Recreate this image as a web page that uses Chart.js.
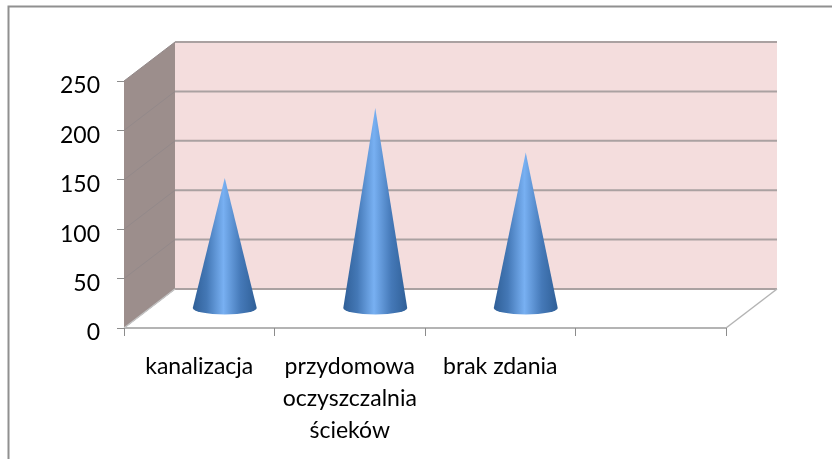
<!DOCTYPE html>
<html>
<head>
<meta charset="utf-8">
<style>
  html, body { margin: 0; padding: 0; background: #fff; }
  canvas { display: block; }
</style>
<script src="https://cdn.jsdelivr.net/npm/chart.js@4"></script>
</head>
<body>
<canvas id="coneChart" width="832" height="459"></canvas>
<script>
const categories = ['kanalizacja', ['przydomowa', 'oczyszczalnia', 'ścieków'], 'brak zdania', ''];
const values = [132, 203, 158, null];
const yTicks = [0, 50, 100, 150, 200, 250];

// 3D look: how far the back wall sits from the front axes
const DEPTH_X = 51;
const DEPTH_Y = -39;

function line(ctx, x1, y1, x2, y2, color, width) {
  ctx.strokeStyle = color;
  ctx.lineWidth = width;
  ctx.beginPath();
  ctx.moveTo(x1, y1);
  ctx.lineTo(x2, y2);
  ctx.stroke();
}

const frame3d = {
  id: 'frame3d',
  beforeDraw(chart) {
    const ctx = chart.ctx;
    const { left, right, top, bottom } = chart.chartArea;
    const y = chart.scales.y;
    ctx.save();

    // outer border, the picture cuts it off on the right and at the bottom
    ctx.fillStyle = '#ffffff';
    ctx.fillRect(0, 0, chart.width, chart.height);
    ctx.strokeStyle = '#909090';
    ctx.lineWidth = 2;
    ctx.beginPath();
    ctx.moveTo(8.5, 459);
    ctx.lineTo(8.5, 6.5);
    ctx.lineTo(832, 6.5);
    ctx.stroke();

    // back wall
    ctx.fillStyle = '#f4dddd';
    ctx.fillRect(left + DEPTH_X, top + DEPTH_Y, right - left, bottom - top);

    // left wall
    ctx.fillStyle = '#9c8e8c';
    ctx.beginPath();
    ctx.moveTo(left, top);
    ctx.lineTo(left + DEPTH_X, top + DEPTH_Y);
    ctx.lineTo(left + DEPTH_X, bottom + DEPTH_Y);
    ctx.lineTo(left, bottom);
    ctx.closePath();
    ctx.fill();

    // gridlines, around the left wall and along the back
    yTicks.forEach(function (v) {
      const py = y.getPixelForValue(v);
      line(ctx, left, py, left + DEPTH_X, py + DEPTH_Y, '#93898a', 1);
      line(ctx, left + DEPTH_X, py + DEPTH_Y, right + DEPTH_X, py + DEPTH_Y, '#aaa1a1', 2);
    });

    // floor edges
    line(ctx, left, bottom, right, bottom, '#b4b4b4', 2);
    line(ctx, right, bottom, right + DEPTH_X, bottom + DEPTH_Y, '#b4b4b4', 1.5);
    line(ctx, left, bottom, left + DEPTH_X, bottom + DEPTH_Y, '#c4c4c4', 1.5);
    ctx.restore();
  },
  afterDatasetsDraw(chart) {
    const ctx = chart.ctx;
    chart.getDatasetMeta(0).data.forEach(function (bar, i) {
      if (values[i] === null) return;
      const cx = bar.x + DEPTH_X / 2;
      const baseY = bar.base + DEPTH_Y / 2;
      const apexY = bar.y + DEPTH_Y / 2;
      const rx = bar.width / 2;
      const ry = 6.5;
      const grad = ctx.createLinearGradient(cx - rx, 0, cx + rx, 0);
      grad.addColorStop(0, '#2f5f97');
      grad.addColorStop(0.22, '#4478b6');
      grad.addColorStop(0.48, '#78b0f2');
      grad.addColorStop(0.75, '#4579b8');
      grad.addColorStop(1, '#2f5f97');
      ctx.save();
      ctx.fillStyle = grad;
      ctx.beginPath();
      ctx.moveTo(cx, apexY);
      ctx.lineTo(cx + rx, baseY);
      ctx.ellipse(cx, baseY, rx, ry, 0, 0, Math.PI);
      ctx.closePath();
      ctx.fill();
      ctx.restore();
    });
  }
};

new Chart(document.getElementById('coneChart'), {
  type: 'bar',
  data: {
    labels: categories,
    datasets: [{
      label: 'Series 1',
      data: values,
      backgroundColor: 'rgba(0,0,0,0)',
      categoryPercentage: 1,
      barPercentage: 0.425
    }]
  },
  plugins: [frame3d],
  options: {
    responsive: false,
    animation: false,
    layout: { padding: { left: 0, top: 81, right: 106, bottom: 0 } },
    plugins: { legend: { display: false }, tooltip: { enabled: false } },
    scales: {
      x: {
        afterFit: function (scale) { scale.height = 131; },
        border: { display: false },
        grid: { drawOnChartArea: false, color: '#8c8c8c', tickLength: 8, offset: true },
        ticks: {
          autoSkip: false,
          maxRotation: 0,
          minRotation: 0,
          padding: 15,
          color: '#000',
          font: { family: 'Lato', size: 23, lineHeight: 1.39 }
        }
      },
      y: {
        min: 0,
        max: 250,
        afterFit: function (scale) { scale.width = 124; },
        border: { display: false },
        grid: { drawOnChartArea: false, color: '#8c8c8c', tickLength: 7 },
        ticks: {
          stepSize: 50,
          padding: 17,
          labelOffset: 5,
          color: '#000',
          font: { family: 'Lato', size: 23 }
        }
      }
    }
  }
});
</script>
</body>
</html>
